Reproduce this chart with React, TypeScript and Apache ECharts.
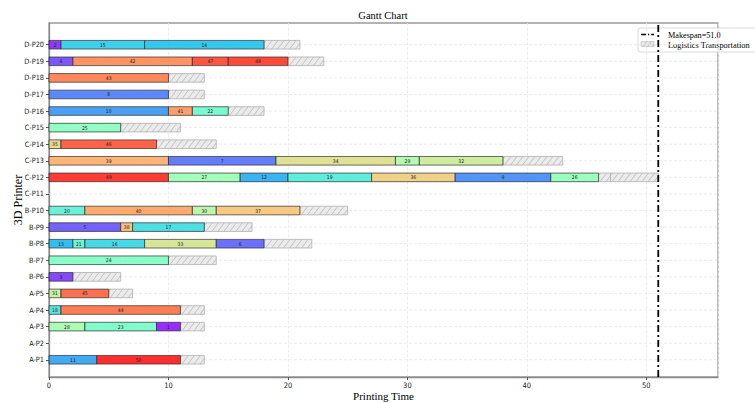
import React, { useEffect, useRef } from 'react';
import * as echarts from 'echarts';

const printers = [
  'A-P1', 'A-P2', 'A-P3', 'A-P4', 'A-P5',
  'B-P6', 'B-P7', 'B-P8', 'B-P9', 'B-P10',
  'C-P11', 'C-P12', 'C-P13', 'C-P14', 'C-P15',
  'D-P16', 'D-P17', 'D-P18', 'D-P19', 'D-P20',
];
const printerTicks = [0, 1, 2, 3, 4, 5, 6, 7, 8, 9, 10, 11, 12, 13, 14, 15, 16, 17, 18, 19];
const xTicks = [0, 10, 20, 30, 40, 50];
const makespan = 51;

// printing operations (printer index, job id, start, end)
const opPrinter = [0, 0, 2, 2, 2, 3, 3, 4, 4, 5, 6, 7, 7, 7, 7, 7, 8, 8, 8, 9, 9, 9, 9,
  11, 11, 11, 11, 11, 11, 11, 12, 12, 12, 12, 12, 13, 13, 14, 15, 15, 15, 16, 17, 18, 18, 18, 18, 19, 19, 19];
const opJob = [11, 50, 28, 23, 1, 18, 44, 31, 45, 3, 24, 13, 21, 16, 33, 6, 5, 38, 17, 20, 40, 30, 37,
  49, 27, 12, 19, 36, 9, 26, 39, 7, 34, 29, 32, 35, 46, 25, 10, 41, 22, 8, 43, 4, 42, 47, 48, 2, 15, 14];
const opStart = [0, 4, 0, 3, 9, 0, 1, 0, 1, 0, 0, 0, 2, 3, 8, 14, 0, 6, 7, 0, 3, 12, 14,
  0, 10, 16, 20, 27, 34, 42, 0, 10, 19, 29, 31, 0, 1, 0, 0, 10, 12, 0, 0, 0, 2, 12, 15, 0, 1, 8];
const opEnd = [4, 11, 3, 9, 11, 1, 11, 1, 5, 2, 10, 2, 3, 8, 14, 18, 6, 7, 13, 3, 12, 14, 21,
  10, 16, 20, 27, 34, 42, 46, 10, 19, 29, 31, 38, 1, 9, 6, 10, 12, 15, 10, 10, 2, 12, 15, 20, 1, 8, 18];

// logistics transportation
const trPrinter = [0, 2, 3, 4, 5, 6, 7, 8, 9, 11, 11, 12, 13, 14, 15, 16, 17, 18, 19];
const trStart = [11, 11, 11, 5, 2, 10, 18, 13, 21, 46, 47, 38, 9, 6, 15, 10, 10, 20, 18];
const trEnd = [13, 13, 13, 7, 6, 14, 22, 17, 25, 47, 51, 43, 14, 11, 18, 13, 13, 23, 21];

const BAR_H = 0.52;
const NUM_JOBS = 50;
const X_MAX = 56;
const Y_MIN = -1.04;
const Y_MAX = 20.31;

function jobColor(job: number): string {
  const t = (job - 1) / (NUM_JOBS - 1);
  const r = Math.min(1, Math.abs(2 * t - 0.5));
  const g = Math.sin(Math.PI * t);
  const b = Math.cos((Math.PI * t) / 2);
  return `rgba(${Math.round(r * 255)},${Math.round(g * 255)},${Math.round(b * 255)},0.82)`;
}

const serif = '"Liberation Serif", "Times New Roman", serif';
const narrow = '"Liberation Sans Narrow", "DejaVu Sans Condensed", "Liberation Sans", sans-serif';

export default function App() {
  const ref = useRef<HTMLDivElement>(null);
  useEffect(() => {
    if (!ref.current) return;
    const chart = echarts.init(ref.current, null, { renderer: 'svg' });

    const opData = opStart.map((s, i) => [s, opEnd[i], opPrinter[i], opJob[i]]);
    const trData = trStart.map((s, i) => [s, trEnd[i], trPrinter[i]]);

    chart.setOption({
      animation: false,
      backgroundColor: '#fff',
      grid: {
        left: 49, right: 37, top: 23, bottom: 26, containLabel: false, outerBoundsMode: 'none',
        show: true, borderColor: '#9a9a9a', borderWidth: 1.3,
      },
      xAxis: {
        type: 'value', min: 0, max: X_MAX, interval: 10,
        name: 'Printing Time', nameLocation: 'middle', nameGap: 13, nameMoveOverlap: false,
        nameTextStyle: { fontFamily: serif, fontSize: 11, color: '#000' },
        axisLine: { show: true, onZero: false, lineStyle: { color: '#8a8a8a', width: 1.3 } },
        axisTick: { show: true, length: 3, lineStyle: { color: '#555' } },
        axisLabel: {
          fontFamily: narrow, fontSize: 7.5, color: '#222', margin: 4, showMaxLabel: false,
          formatter: (v: number) => (xTicks.indexOf(v) >= 0 ? String(v) : ''),
        },
        splitLine: { show: true, lineStyle: { color: '#e8e8e8', type: 'dashed', width: 0.8 } },
      },
      yAxis: {
        type: 'value', min: Y_MIN, max: Y_MAX,
        name: '3D Printer', nameLocation: 'middle', nameGap: 25, nameRotate: 90, nameMoveOverlap: false,
        nameTextStyle: { fontFamily: serif, fontSize: 12, color: '#000' },
        axisLine: { show: true, onZero: false, lineStyle: { color: '#8a8a8a', width: 1.3 } },
        axisTick: { show: true, length: 3, customValues: printerTicks, lineStyle: { color: '#555' } },
        axisLabel: {
          fontFamily: narrow, fontSize: 7.3, color: '#222', margin: 5,
          customValues: printerTicks,
          formatter: (v: number) => printers[Math.round(v)] ?? '',
        },
        splitLine: { show: false },
      },
      graphic: [
        { type: 'text', x: 383, y: 15, style: { text: 'Gantt Chart', fontFamily: serif, fontSize: 10.5, fill: '#000', align: 'center', verticalAlign: 'middle' } },
        { type: 'text', x: -4, y: -3, style: { text: ')', fontFamily: serif, fontSize: 38, fill: '#000', verticalAlign: 'bottom' } },
        { type: 'text', x: 130, y: -3, style: { text: 'g', fontFamily: serif, fontSize: 38, fill: '#000', verticalAlign: 'bottom' } },
        { type: 'text', x: 234, y: -3, style: { text: 'p', fontFamily: serif, fontSize: 38, fill: '#000', verticalAlign: 'bottom' } },
        { type: 'text', x: 738, y: -3, style: { text: 'y', fontFamily: serif, fontSize: 38, fill: '#000', verticalAlign: 'bottom' } },
        {
          type: 'group', z: 100, children: [
            { type: 'rect', shape: { x: 638, y: 28, width: 140, height: 24, r: 2 }, style: { fill: 'rgba(255,255,255,0.8)', stroke: '#d0d0d0', lineWidth: 0.8 } },
            { type: 'line', shape: { x1: 641, y1: 34.5, x2: 654, y2: 34.5 }, style: { stroke: '#000', lineWidth: 1.5, lineDash: [5, 2, 1.2, 2] } },
            { type: 'rect', shape: { x: 641, y: 41.5, width: 13, height: 5 }, style: { fill: '#e6e6e6', stroke: '#bdbdbd', lineWidth: 0.6 } },
            { type: 'line', shape: { x1: 643, y1: 46.5, x2: 647, y2: 41.5 }, style: { stroke: '#aaa', lineWidth: 0.6 } },
            { type: 'line', shape: { x1: 647.5, y1: 46.5, x2: 651.5, y2: 41.5 }, style: { stroke: '#aaa', lineWidth: 0.6 } },
            { type: 'line', shape: { x1: 652, y1: 46.5, x2: 654, y2: 44 }, style: { stroke: '#aaa', lineWidth: 0.6 } },
            { type: 'text', x: 668, y: 35, style: { text: 'Makespan=51.0', fontFamily: serif, fontSize: 8.2, fill: '#000', verticalAlign: 'middle' } },
            { type: 'text', x: 668, y: 45, style: { text: 'Logistics Transportation', fontFamily: serif, fontSize: 8.4, fill: '#000', verticalAlign: 'middle' } },
          ],
        },
      ],
      series: [
        {
          // horizontal grid lines at each printer
          type: 'custom', z: 1, silent: true, data: printerTicks.map((i) => [i]), encode: { y: 0 },
          renderItem: (params: any, api: any) => {
            const p = api.value(0);
            const a = api.coord([0, p]);
            const b = api.coord([X_MAX, p]);
            return { type: 'line', shape: { x1: a[0], y1: a[1], x2: b[0], y2: b[1] }, style: { stroke: '#e6e6e6', lineWidth: 0.8, lineDash: [3, 2] } };
          },
        },
        {
          type: 'custom', z: 3, data: opData, encode: { x: [0, 1], y: 2 },
          renderItem: (params: any, api: any) => {
            const s = api.value(0), e = api.value(1), p = api.value(2), j = api.value(3);
            const a = api.coord([s, p]);
            const b = api.coord([e, p]);
            const h = api.size([0, BAR_H])[1];
            return {
              type: 'group',
              children: [
                { type: 'rect', shape: { x: a[0], y: a[1] - h / 2, width: b[0] - a[0], height: h }, style: { fill: jobColor(j), stroke: 'rgba(50,50,50,0.8)', lineWidth: 0.9 } },
                { type: 'text', style: { text: String(j), x: (a[0] + b[0]) / 2, y: a[1], align: 'center', verticalAlign: 'middle', fontSize: 5, fontFamily: narrow, fill: '#222' } },
              ],
            };
          },
        },
        {
          type: 'custom', z: 2, data: trData, encode: { x: [0, 1], y: 2 },
          renderItem: (params: any, api: any) => {
            const s = api.value(0), e = api.value(1), p = api.value(2);
            const a = api.coord([s, p]);
            const b = api.coord([e, p]);
            const h = api.size([0, BAR_H])[1];
            const x0 = a[0], x1 = b[0], yTop = a[1] - h / 2, yBot = a[1] + h / 2;
            const d = h * 0.75;
            const step = 6;
            const children: any[] = [
              { type: 'rect', shape: { x: x0, y: yTop, width: x1 - x0, height: h }, style: { fill: '#ebebeb', stroke: '#b8b8b8', lineWidth: 0.9 } },
            ];
            for (let xb = x0 - d + 2; xb < x1; xb += step) {
              const t0 = Math.max(0, (x0 - xb) / d);
              const t1 = Math.min(1, (x1 - xb) / d);
              if (t1 <= t0) continue;
              children.push({
                type: 'line',
                shape: { x1: xb + d * t0, y1: yBot - h * t0, x2: xb + d * t1, y2: yBot - h * t1 },
                style: { stroke: '#b0b0b0', lineWidth: 0.7 },
              });
            }
            return { type: 'group', children };
          },
        },
        {
          // makespan line
          type: 'custom', z: 5, silent: true, data: [[makespan]], encode: { x: 0 },
          renderItem: (params: any, api: any) => {
            const m = api.value(0);
            const a = api.coord([m, Y_MIN]);
            const b = api.coord([m, Y_MAX]);
            return { type: 'line', shape: { x1: a[0], y1: a[1], x2: b[0], y2: b[1] }, style: { stroke: '#000', lineWidth: 1.8, lineDash: [7, 3, 2, 3] } };
          },
        },
      ],
    });
    return () => chart.dispose();
  }, []);
  return <div ref={ref} style={{ position: 'fixed', left: 0, top: 0, width: 755, height: 403, background: '#fff' }} />;
}
